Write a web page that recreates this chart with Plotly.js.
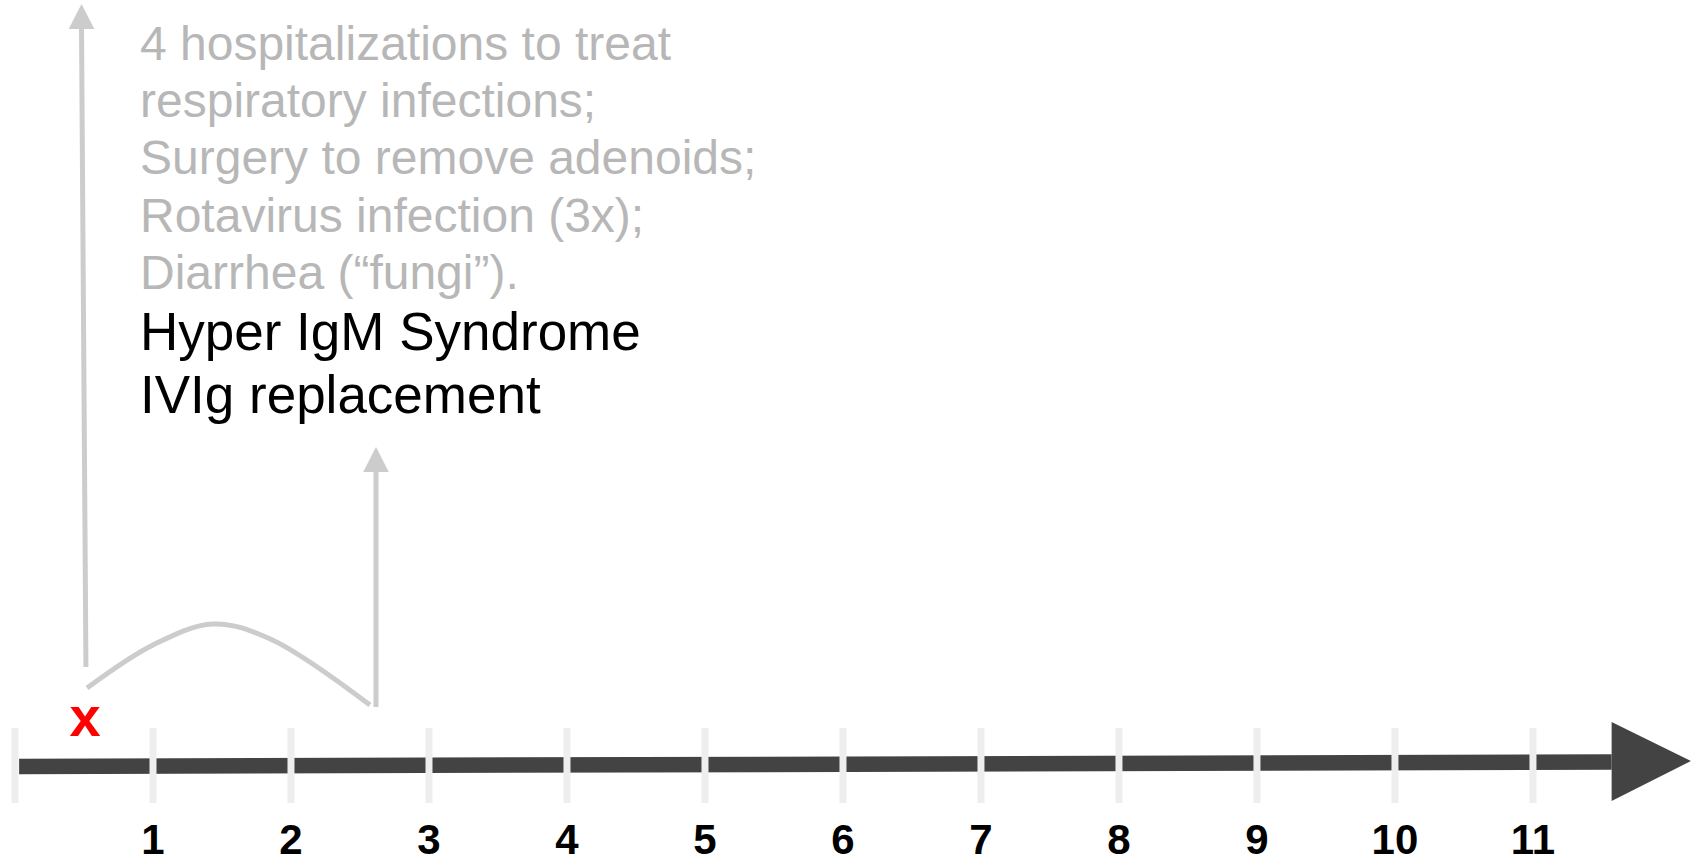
<!DOCTYPE html>
<html>
<head>
<meta charset="utf-8">
<script src="https://cdn.plot.ly/plotly-3.0.1.min.js"></script>
<style>
  html, body { margin: 0; padding: 0; background: #ffffff; overflow: hidden; }
  #chart { width: 1698px; height: 867px; }
</style>
</head>
<body>
<div id="chart"></div>
<script>
// ---- data (x in years along the timeline, y = height above the timeline) ----
const tickYears = [0, 1, 2, 3, 4, 5, 6, 7, 8, 9, 10, 11];
const labelYears = [1, 2, 3, 4, 5, 6, 7, 8, 9, 10, 11];
const tickLabels = ['1', '2', '3', '4', '5', '6', '7', '8', '9', '10', '11'];

const timelineX = [0.03, 11.57];
const timelineY = [-0.5, 4];
const timelineTipX = 12.145;

const markerYear = 0.507;     // red "x"
const markerText = 'x';

const earlyArrowX = [0.514, 0.482];   // first grey arrow (bottom, top)
const earlyArrowY = [99, 737];
const earlyArrowTipY = 762;

const curveX = [0.522, 1.0, 1.435, 1.85, 2.572];
const curveY = [78, 121, 142, 127, 61];

const diagArrowX = [2.616, 2.616];    // second grey arrow (diagnosis)
const diagArrowY = [59, 294];
const diagArrowTipY = 319;

const greyNotes = [
  '4 hospitalizations to treat',
  'respiratory infections;',
  'Surgery to remove adenoids;',
  'Rotavirus infection (3x);',
  'Diarrhea (\u201cfungi\u201d).'
];
const blackNotes = [
  'Hyper IgM Syndrome',
  'IVIg replacement'
];

// ---- layout helpers ----
const FONT = 'Liberation Sans, Arial, Helvetica, sans-serif';
const headHalf = 0.093;   // arrowhead half width (years)

const traces = [];

// main timeline bar
traces.push({
  x: timelineX, y: timelineY, mode: 'lines',
  line: { color: '#434343', width: 15.5 }, hoverinfo: 'skip'
});
// main arrowhead
traces.push({
  x: [timelineX[1], timelineX[1], timelineTipX, timelineX[1]],
  y: [44, -35, 5, 44],
  mode: 'lines', fill: 'toself', fillcolor: '#434343',
  line: { color: '#434343', width: 0 }, hoverinfo: 'skip'
});
// tick separators
const tx = [], ty = [];
tickYears.forEach(k => { tx.push(k, k, null); ty.push(38, -37, null); });
traces.push({
  x: tx, y: ty, mode: 'lines',
  line: { color: '#eeeeee', width: 7 }, hoverinfo: 'skip'
});
// tick labels
traces.push({
  x: labelYears, y: labelYears.map(() => -77.5), mode: 'text',
  text: tickLabels, textposition: 'middle center', cliponaxis: false,
  textfont: { family: FONT, size: 42, color: '#000000', weight: 'bold' },
  hoverinfo: 'skip'
});
// red x marker
traces.push({
  x: [markerYear], y: [44], mode: 'text', text: [markerText],
  textposition: 'middle center', cliponaxis: false,
  textfont: { family: FONT, size: 56, color: '#ff0000', weight: 'bold' },
  hoverinfo: 'skip'
});
// first grey arrow
traces.push({
  x: earlyArrowX, y: earlyArrowY, mode: 'lines',
  line: { color: '#cccccc', width: 5 }, hoverinfo: 'skip'
});
traces.push({
  x: [earlyArrowX[1] - headHalf, earlyArrowX[1] + headHalf, earlyArrowX[1], earlyArrowX[1] - headHalf],
  y: [earlyArrowY[1], earlyArrowY[1], earlyArrowTipY, earlyArrowY[1]],
  mode: 'lines', fill: 'toself', fillcolor: '#cccccc',
  line: { color: '#cccccc', width: 0 }, hoverinfo: 'skip'
});
// curve
traces.push({
  x: curveX, y: curveY, mode: 'lines',
  line: { color: '#cccccc', width: 5, shape: 'spline', smoothing: 1 }, hoverinfo: 'skip'
});
// second grey arrow
traces.push({
  x: diagArrowX, y: diagArrowY, mode: 'lines',
  line: { color: '#cccccc', width: 5 }, hoverinfo: 'skip'
});
traces.push({
  x: [diagArrowX[1] - headHalf, diagArrowX[1] + headHalf, diagArrowX[1], diagArrowX[1] - headHalf],
  y: [diagArrowY[1], diagArrowY[1], diagArrowTipY, diagArrowY[1]],
  mode: 'lines', fill: 'toself', fillcolor: '#cccccc',
  line: { color: '#cccccc', width: 0 }, hoverinfo: 'skip'
});

// text notes
const textX = 0.89;
const greyY = [723, 665.6, 608.2, 550.8, 493.4];
const blackY = [434.5, 371.5];
const annotations = [];
greyNotes.forEach((t, i) => annotations.push({
  x: textX, y: greyY[i], xref: 'x', yref: 'y', text: t, showarrow: false,
  xanchor: 'left', yanchor: 'middle',
  font: { family: FONT, size: 48, color: '#b7b7b7' }
}));
blackNotes.forEach((t, i) => annotations.push({
  x: textX, y: blackY[i], xref: 'x', yref: 'y', text: t, showarrow: false,
  xanchor: 'left', yanchor: 'middle',
  font: { family: FONT, size: 53, color: '#000000' }
}));

const layout = {
  width: 1698, height: 867,
  margin: { l: 0, r: 0, t: 0, b: 0, pad: 0 },
  paper_bgcolor: '#ffffff', plot_bgcolor: '#ffffff',
  showlegend: false, hovermode: false,
  xaxis: { range: [-0.1087, 12.196], visible: false, fixedrange: true },
  yaxis: { range: [-101, 766], visible: false, fixedrange: true },
  annotations: annotations
};

Plotly.newPlot('chart', traces, layout, { displayModeBar: false, staticPlot: true });
</script>
</body>
</html>
